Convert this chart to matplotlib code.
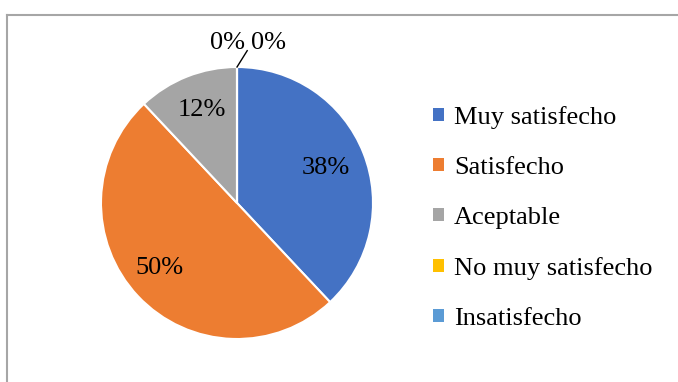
import matplotlib.pyplot as plt
from matplotlib.patches import Patch
from matplotlib.lines import Line2D

plt.rcParams['font.family'] = ['Liberation Serif', 'DejaVu Serif']

categorias = ['Muy satisfecho', 'Satisfecho', 'Aceptable', 'No muy satisfecho', 'Insatisfecho']
porcentajes = [38, 50, 12, 0, 0]
colores = ['#4472C4', '#ED7D31', '#A5A5A5', '#FFC000', '#5B9BD5']

W, H = 678, 382
fig = plt.figure(figsize=(W / 100, H / 100), dpi=100)

# chart border (only left and top are visible in the reference)
fig.add_artist(Line2D([6.5 / W, 6.5 / W], [0, 1 - 14.5 / H], color='#a6a6a6', lw=1.5))
fig.add_artist(Line2D([6.5 / W, 1], [1 - 14.5 / H, 1 - 14.5 / H], color='#a6a6a6', lw=1.5))

# pie: center (237, 203), radius 136 px
ax = fig.add_axes([101 / W, (H - 339) / H, 272 / W, 272 / H])
wedges, texts, autotexts = ax.pie(porcentajes, colors=colores, startangle=90, counterclock=False,
                                  autopct='%1.0f%%', pctdistance=0.7,
                                  wedgeprops=dict(edgecolor='white', linewidth=1.5),
                                  textprops=dict(fontsize=19, color='black'))
ax.set_xlim(-1, 1)
ax.set_ylim(-1, 1)
ax.set_aspect('equal')

# small nudges to match label placement
x, y = autotexts[1].get_position()
autotexts[1].set_position((x - 0.06, y))
x, y = autotexts[2].get_position()
autotexts[2].set_position((x, y + 0.03))

# zero slices: labels above the pie with a leader line
autotexts[3].set_position((-0.07, 1.18))
autotexts[4].set_position((0.23, 1.18))
ax.plot([0, 0.075], [1.0, 1.12], color='black', lw=1, clip_on=False)

handles = [Patch(facecolor=c, edgecolor='none') for c in colores]
fig.legend(handles, categorias, loc='upper left', bbox_to_anchor=(433 / W, 1 - 106 / H),
           frameon=False, fontsize=19, handlelength=0.4, handleheight=0.4,
           handletextpad=0.4, labelspacing=1.06, borderpad=0, borderaxespad=0)

fig.savefig('out.png', dpi=100)
